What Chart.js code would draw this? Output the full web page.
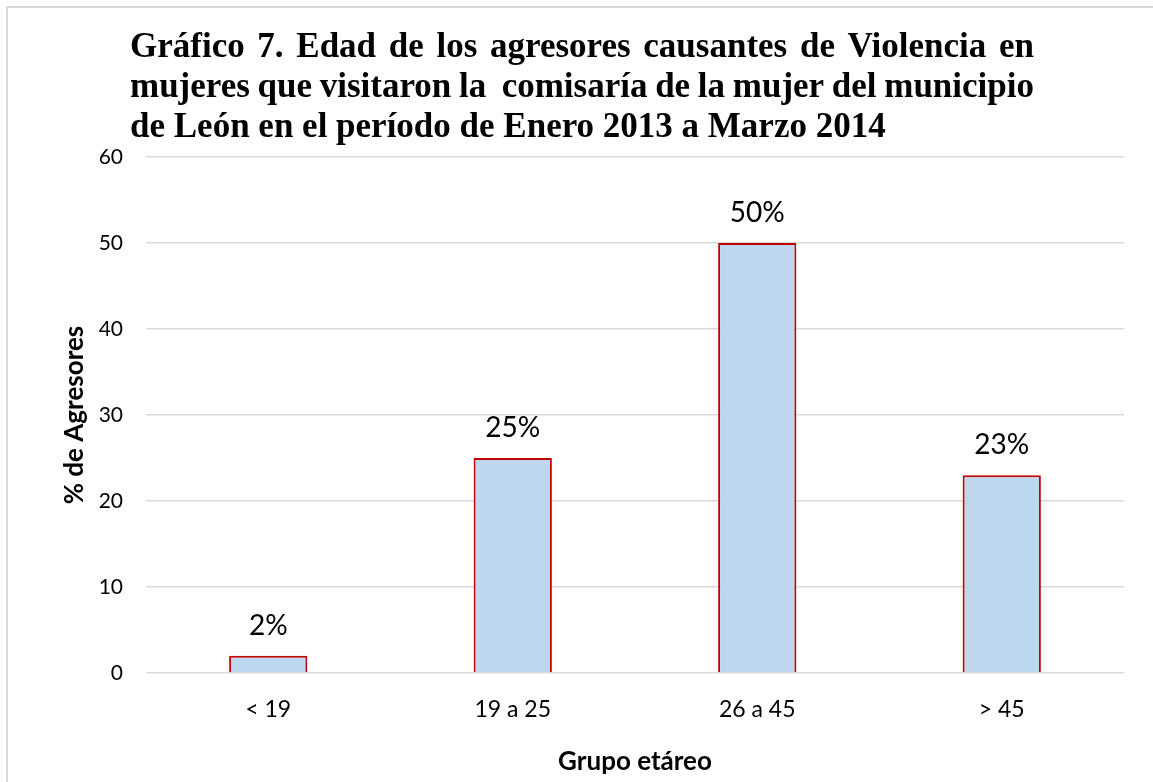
<!DOCTYPE html>
<html>
<head>
<meta charset="utf-8">
<script src="https://cdn.jsdelivr.net/npm/chart.js@4/dist/chart.umd.min.js"></script>
<style>
  html, body { margin: 0; padding: 0; background: #fff; }
  #wrap { width: 1153px; height: 782px; position: relative; }
</style>
</head>
<body>
<div id="wrap"><canvas id="chartAgresores"></canvas></div>
<script>
const categorias = ['< 19', '19 a 25', '26 a 45', '> 45'];
const porcentajes = [2, 25, 50, 23];
const tituloLineas = [
    'Gráfico 7. Edad de los agresores causantes de Violencia en',
    'mujeres que visitaron la  comisaría de la mujer del municipio',
    'de León en el período de Enero 2013 a Marzo 2014'
];

const fuente = 'Lato, "Open Sans", sans-serif';

// fondo blanco + marco gris del gráfico
const marcoPlugin = {
    id: 'marco',
    beforeDraw(chart) {
        const ctx = chart.ctx;
        ctx.save();
        ctx.fillStyle = '#fff';
        ctx.fillRect(0, 0, chart.width, chart.height);
        ctx.strokeStyle = '#d9d9d9';
        ctx.lineWidth = 2;
        ctx.strokeRect(7, 7, chart.width + 20, chart.height + 20);
        ctx.restore();
    }
};

// título justificado como en Word
const tituloPlugin = {
    id: 'tituloJustificado',
    afterDraw(chart) {
        const ctx = chart.ctx;
        const x0 = 130, x1 = 1034;
        ctx.save();
        ctx.font = 'bold 35px "Liberation Serif", "Times New Roman", serif';
        ctx.fillStyle = '#000';
        ctx.textBaseline = 'alphabetic';
        ctx.textAlign = 'left';
        tituloLineas.forEach((linea, i) => {
            const y = 57 + i * 40;
            if (i === tituloLineas.length - 1) {
                ctx.fillText(linea, x0, y);
                return;
            }
            const palabras = linea.split(' ');
            const anchos = palabras.map(p => ctx.measureText(p).width);
            const total = anchos.reduce((a, b) => a + b, 0);
            const esp = (x1 - x0 - total) / (palabras.length - 1);
            let x = x0;
            palabras.forEach((p, j) => {
                ctx.fillText(p, x, y);
                x += anchos[j] + esp;
            });
        });
        ctx.restore();
    }
};

// etiquetas de datos encima de cada barra
const etiquetasPlugin = {
    id: 'etiquetas',
    afterDatasetsDraw(chart) {
        const ctx = chart.ctx;
        const meta = chart.getDatasetMeta(0);
        ctx.save();
        ctx.font = '28px ' + fuente;
        ctx.fillStyle = '#000';
        ctx.textAlign = 'center';
        ctx.textBaseline = 'middle';
        meta.data.forEach((bar, i) => {
            ctx.fillText(porcentajes[i] + '%', bar.x, bar.y - 30);
        });
        ctx.restore();
    }
};

const ctxAgresores = document.getElementById('chartAgresores');

new Chart(ctxAgresores, {
    type: 'bar',
    data: {
        labels: categorias,
        datasets: [{
            data: porcentajes,
            backgroundColor: '#BDD7EE',
            borderColor: '#C00000',
            borderWidth: 2,
            barPercentage: 0.32,
            categoryPercentage: 1
        }]
    },
    options: {
        responsive: true,
        maintainAspectRatio: false,
        animation: false,
        layout: {
            padding: { top: 157, right: 29, bottom: 0, left: 0 }
        },
        scales: {
            x: {
                grid: { display: false, drawTicks: false },
                border: { display: false },
                ticks: { color: '#000', font: { family: fuente, size: 23 }, padding: 23 },
                title: {
                    display: true,
                    text: 'Grupo etáreo',
                    color: '#000',
                    font: { family: fuente, size: 26, weight: 'bold' },
                    padding: { top: 0, bottom: 5 }
                },
                afterFit(scale) { scale.height = 109; }
            },
            y: {
                min: 0,
                max: 60,
                ticks: { stepSize: 10, color: '#000', font: { family: fuente, size: 21 }, padding: 23 },
                grid: { color: '#d9d9d9', lineWidth: 1.5, drawTicks: false },
                border: { display: false },
                title: {
                    display: true,
                    text: '% de Agresores',
                    color: '#000',
                    font: { family: fuente, size: 26, weight: 'bold' },
                    padding: { top: 59, bottom: 0 }
                },
                afterFit(scale) { scale.width = 146; }
            }
        },
        plugins: {
            legend: { display: false },
            tooltip: { enabled: false }
        }
    },
    plugins: [marcoPlugin, tituloPlugin, etiquetasPlugin]
});
</script>
</body>
</html>
